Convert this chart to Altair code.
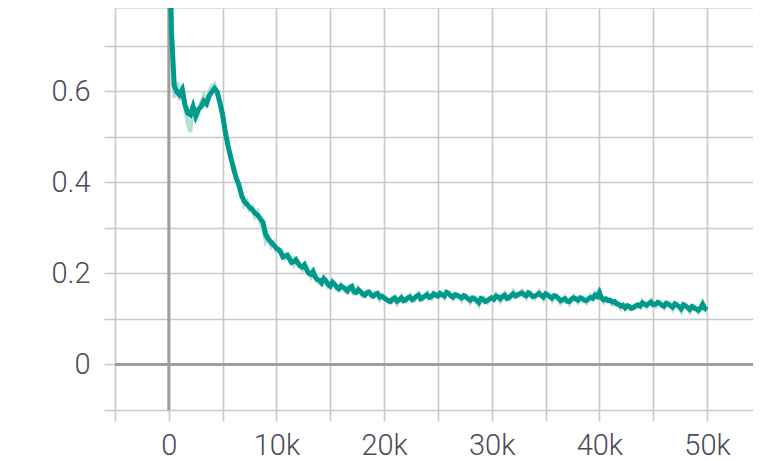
import altair as alt
import pandas as pd

# ---- data ----
steps = list(range(0, 10001, 250)) + list(range(10200, 50001, 200))

loss_smooth = [
    # 0 .. 10000 (every 250)
    1.000, 0.730, 0.612, 0.598, 0.592, 0.603, 0.570, 0.552, 0.548, 0.566,
    0.545, 0.560, 0.566, 0.578, 0.572, 0.590, 0.598, 0.606, 0.598, 0.575,
    0.548, 0.510, 0.480, 0.455, 0.432, 0.410, 0.395, 0.372, 0.358, 0.352,
    0.345, 0.340, 0.332, 0.328, 0.320, 0.312, 0.285, 0.275, 0.268, 0.262,
    0.255,
    # 10200 .. 50000 (every 200)
    0.252, 0.246, 0.236, 0.238, 0.240, 0.232, 0.224, 0.226, 0.230, 0.222,
    0.216, 0.214, 0.219, 0.208, 0.200, 0.198, 0.204, 0.192, 0.186, 0.185,
    0.179, 0.188, 0.183, 0.176, 0.172, 0.180, 0.176, 0.170, 0.166, 0.172,
    0.169, 0.166, 0.161, 0.168, 0.171, 0.160, 0.158, 0.164, 0.160, 0.155,
    0.152, 0.157, 0.159, 0.153, 0.150, 0.154, 0.156, 0.148, 0.150, 0.146,
    0.143, 0.140, 0.138, 0.143, 0.146, 0.139, 0.142, 0.146, 0.140, 0.142,
    0.146, 0.148, 0.142, 0.145, 0.150, 0.152, 0.144, 0.147, 0.150, 0.153,
    0.147, 0.149, 0.155, 0.152, 0.150, 0.156, 0.153, 0.150, 0.158, 0.155,
    0.151, 0.148, 0.153, 0.151, 0.149, 0.146, 0.151, 0.148, 0.144, 0.141,
    0.146, 0.144, 0.140, 0.136, 0.145, 0.143, 0.138, 0.140, 0.144, 0.146,
    0.143, 0.150, 0.148, 0.144, 0.149, 0.152, 0.145, 0.147, 0.151, 0.155,
    0.150, 0.153, 0.155, 0.157, 0.153, 0.151, 0.157, 0.154, 0.149, 0.150,
    0.153, 0.156, 0.151, 0.148, 0.155, 0.152, 0.149, 0.146, 0.151, 0.149,
    0.145, 0.140, 0.142, 0.144, 0.139, 0.138, 0.143, 0.146, 0.144, 0.141,
    0.146, 0.144, 0.141, 0.140, 0.144, 0.147, 0.145, 0.152, 0.149, 0.158,
    0.146, 0.142, 0.144, 0.140, 0.141, 0.137, 0.138, 0.133, 0.132, 0.128,
    0.130, 0.124, 0.129, 0.127, 0.123, 0.125, 0.129, 0.131, 0.128, 0.135,
    0.132, 0.130, 0.134, 0.137, 0.131, 0.132, 0.136, 0.134, 0.130, 0.128,
    0.134, 0.132, 0.129, 0.126, 0.133, 0.130, 0.127, 0.122, 0.131, 0.128,
    0.125, 0.121, 0.127, 0.124, 0.122, 0.119, 0.124, 0.132, 0.123, 0.120,
]

loss_raw = [
    # 0 .. 10000 (every 250)
    1.000, 0.740, 0.585, 0.620, 0.580, 0.612, 0.565, 0.530, 0.510, 0.570,
    0.540, 0.552, 0.575, 0.590, 0.565, 0.598, 0.612, 0.615, 0.590, 0.570,
    0.540, 0.515, 0.475, 0.460, 0.425, 0.415, 0.390, 0.378, 0.350, 0.358,
    0.340, 0.345, 0.325, 0.335, 0.310, 0.300, 0.270, 0.280, 0.260, 0.268,
    0.250,
    # 10200 .. 50000 (every 200)
    0.252, 0.252, 0.236, 0.232, 0.240, 0.238, 0.224, 0.218, 0.230, 0.228,
    0.216, 0.208, 0.219, 0.214, 0.200, 0.192, 0.204, 0.198, 0.186, 0.178,
    0.179, 0.192, 0.183, 0.170, 0.172, 0.184, 0.176, 0.165, 0.166, 0.176,
    0.169, 0.160, 0.161, 0.172, 0.171, 0.155, 0.158, 0.168, 0.160, 0.150,
    0.152, 0.160, 0.159, 0.148, 0.150, 0.158, 0.156, 0.143, 0.150, 0.150,
    0.143, 0.136, 0.138, 0.147, 0.146, 0.134, 0.142, 0.150, 0.140, 0.138,
    0.146, 0.152, 0.142, 0.140, 0.150, 0.156, 0.144, 0.142, 0.150, 0.157,
    0.147, 0.144, 0.155, 0.156, 0.150, 0.150, 0.153, 0.146, 0.158, 0.159,
    0.151, 0.144, 0.153, 0.155, 0.149, 0.141, 0.151, 0.152, 0.144, 0.136,
    0.146, 0.148, 0.140, 0.131, 0.145, 0.147, 0.138, 0.135, 0.144, 0.150,
    0.143, 0.154, 0.148, 0.139, 0.149, 0.156, 0.145, 0.142, 0.151, 0.160,
    0.150, 0.148, 0.155, 0.161, 0.153, 0.146, 0.157, 0.158, 0.149, 0.145,
    0.153, 0.160, 0.151, 0.143, 0.155, 0.156, 0.149, 0.141, 0.151, 0.153,
    0.145, 0.135, 0.142, 0.148, 0.139, 0.133, 0.143, 0.150, 0.144, 0.137,
    0.146, 0.148, 0.141, 0.135, 0.144, 0.151, 0.145, 0.156, 0.149, 0.163,
    0.146, 0.137, 0.144, 0.144, 0.141, 0.132, 0.138, 0.137, 0.132, 0.123,
    0.130, 0.128, 0.129, 0.122, 0.123, 0.129, 0.129, 0.126, 0.128, 0.139,
    0.132, 0.126, 0.134, 0.141, 0.131, 0.127, 0.136, 0.138, 0.130, 0.124,
    0.134, 0.136, 0.129, 0.121, 0.133, 0.134, 0.127, 0.117, 0.131, 0.132,
    0.125, 0.116, 0.127, 0.128, 0.122, 0.115, 0.124, 0.136, 0.123, 0.117,
]

x_ticks = list(range(-5000, 55001, 5000))
y_ticks = [-0.1, 0, 0.1, 0.2, 0.3, 0.4, 0.5, 0.6, 0.7]

df = pd.DataFrame({"step": steps, "smooth": loss_smooth, "raw": loss_raw})

X_DOMAIN = [-5000, 54275]
Y_DOMAIN = [-0.1, 0.7824]
GRID = "#c8c8c8"
LABEL = "#4a4a56"
FONT = "Roboto"

xscale = alt.Scale(domain=X_DOMAIN, nice=False, zero=False)
yscale = alt.Scale(domain=Y_DOMAIN, nice=False, zero=False)

xaxis = alt.Axis(
    values=x_ticks, title=None, domain=False,
    grid=True, gridColor=GRID, gridWidth=1.6,
    ticks=True, tickColor=GRID, tickWidth=1.6, tickSize=11,
    labelExpr="datum.value % 10000 == 0 ? (datum.value == 0 ? '0' : (datum.value / 1000) + 'k') : ''",
    labelFont=FONT, labelFontSize=29, labelFontWeight=300, labelColor=LABEL,
    labelPadding=10, labelFlush=False, labelOverlap=False,
)
yaxis = alt.Axis(
    values=y_ticks, title=None, domain=False,
    grid=True, gridColor=GRID, gridWidth=1.6,
    ticks=True, tickColor=GRID, tickWidth=1.6, tickSize=11,
    labelExpr="round(datum.value * 10) % 2 == 0 ? (datum.value == 0 ? '0' : format(datum.value, '.1f')) : ''",
    labelFont=FONT, labelFontSize=29, labelFontWeight=300, labelColor=LABEL,
    labelPadding=14, labelFlush=False, labelOverlap=False,
)

base = alt.Chart(df)

raw_line = base.mark_line(color="#b4e0da", strokeWidth=4, clip=True).encode(
    x=alt.X("step:Q", scale=xscale, axis=xaxis),
    y=alt.Y("raw:Q", scale=yscale, axis=yaxis),
)
smooth_line = base.mark_line(color="#009a8a", strokeWidth=5, clip=True).encode(
    x=alt.X("step:Q", scale=xscale),
    y=alt.Y("smooth:Q", scale=yscale),
)

zero_df = pd.DataFrame({"z": [0]})
zero_x = alt.Chart(zero_df).mark_rule(color="#9e9e9e", strokeWidth=3).encode(
    x=alt.X("z:Q", scale=xscale)
)
zero_y = alt.Chart(zero_df).mark_rule(color="#9e9e9e", strokeWidth=3).encode(
    y=alt.Y("z:Q", scale=yscale)
)

chart = alt.layer(raw_line, zero_x, zero_y, smooth_line).properties(
    width=638, height=402,
    autosize=alt.AutoSizeParams(type="none"),
    padding={"left": 107, "top": 0, "right": 0, "bottom": 53},
).configure_view(stroke=None).configure(background="white")

chart.save("out.html", embed_options={"renderer": "svg", "actions": False})
